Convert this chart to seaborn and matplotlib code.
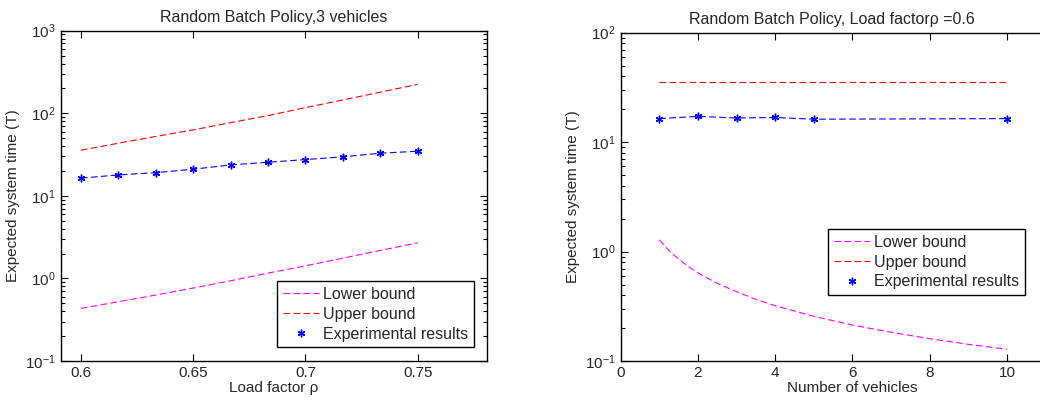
import numpy as np
import pandas as pd
import matplotlib
matplotlib.use("Agg")
import matplotlib.pyplot as plt
import seaborn as sns

# Left panel: 3 vehicles, varying load factor
load_factor = [0.6, 0.6167, 0.6333, 0.65, 0.6667, 0.6833, 0.7, 0.7167, 0.7333, 0.75]
lower_rho = [0.434, 0.522, 0.629, 0.764, 0.937, 1.16, 1.42, 1.76, 2.18, 2.70]
upper_rho = [35.7, 43.4, 52.3, 62.8, 77.0, 93.7, 117.0, 145.0, 180.0, 224.0]
exp_rho = [16.4, 17.9, 19.1, 21.0, 23.7, 25.5, 27.5, 29.7, 32.8, 34.7]

# Right panel: load factor 0.6, varying number of vehicles
vehicles = [1, 1.25, 1.5, 1.75, 2, 2.5, 3, 3.5, 4, 5, 6, 7, 8, 9, 10]
lower_n = [1.28, 1.02, 0.853, 0.731, 0.64, 0.512, 0.43, 0.366, 0.32, 0.256,
           0.213, 0.183, 0.16, 0.142, 0.128]
upper_n = [35.6] * len(vehicles)
exp_vehicles = [1, 2, 3, 4, 5, 10]
exp_n = [16.4, 17.2, 16.6, 16.8, 16.2, 16.4]

sns.set_style("ticks")
plt.rcParams['font.family'] = ['Liberation Sans', 'DejaVu Sans']
plt.rcParams['mathtext.fontset'] = 'custom'
plt.rcParams['mathtext.rm'] = 'Liberation Sans'

ASTERISK = (6, 2, 0)
DASH = (6, 3)

fig = plt.figure(figsize=(10.4, 4), dpi=100)
ax1 = fig.add_axes([0.0584, 0.0975, 0.4102, 0.8258])
ax2 = fig.add_axes([0.5968, 0.0975, 0.4458, 0.8208])

LEG = dict(fontsize=11.5, fancybox=False, edgecolor='black', framealpha=1,
           handlelength=2.3, handletextpad=0.25, labelspacing=0.3,
           borderpad=0.35, borderaxespad=0)


def draw(ax, x, lo, up, xe, ye):
    df = pd.DataFrame({'x': x, 'lo': lo, 'up': up})
    de = pd.DataFrame({'x': xe, 'y': ye})
    sns.lineplot(data=df, x='x', y='lo', ax=ax, color='#ff00ff', lw=0.8,
                 label='Lower bound').lines[-1].set_dashes(DASH)
    sns.lineplot(data=df, x='x', y='up', ax=ax, color='#ff0000', lw=0.8,
                 label='Upper bound').lines[-1].set_dashes(DASH)
    sns.lineplot(data=de, x='x', y='y', ax=ax, color='#0000ff', lw=0.8,
                 legend=False).lines[-1].set_dashes(DASH)
    sns.lineplot(data=de, x='x', y='y', ax=ax, color='#0000ff', lw=0,
                 marker=ASTERISK, markersize=5.5, markeredgewidth=1.0,
                 markeredgecolor='#0000ff', label='Experimental results')
    ax.set_yscale('log')
    ax.set_ylabel('Expected system time (T)', fontsize=11)
    ax.tick_params(which='both', direction='in', top=True, right=True,
                   labelsize=11, width=0.8, color='black')
    ax.tick_params(which='major', length=5)
    ax.tick_params(which='minor', length=3)
    for s in ax.spines.values():
        s.set_linewidth(1.0)
        s.set_color('black')


draw(ax1, load_factor, lower_rho, upper_rho, load_factor, exp_rho)
ax1.set_xlim(0.591, 0.781)
ax1.set_ylim(0.1, 1000)
ax1.set_xticks([0.6, 0.65, 0.7, 0.75])
ax1.set_xticklabels(['0.6', '0.65', '0.7', '0.75'])
ax1.set_xlabel('Load factor ρ', fontsize=11, labelpad=1)
ax1.set_title('Random Batch Policy,3 vehicles', fontsize=11.5, pad=6)
ax1.legend(loc='lower right', bbox_to_anchor=(0.969, 0.042),
           **LEG).get_frame().set_linewidth(1.0)

draw(ax2, vehicles, lower_n, upper_n, exp_vehicles, exp_n)
ax2.set_xlim(0, 12)
ax2.set_ylim(0.1, 100)
ax2.set_xticks([0, 2, 4, 6, 8, 10])
ax2.set_xlabel('Number of vehicles', fontsize=11, labelpad=1)
ax2.set_title('Random Batch Policy, Load factorρ =0.6', fontsize=11.5, pad=6,
              x=0.456)
ax2.legend(loc='lower right', bbox_to_anchor=(0.9856, 0.2625),
           bbox_transform=fig.transFigure,
           **LEG).get_frame().set_linewidth(1.0)

fig.savefig('out.png', dpi=100)
